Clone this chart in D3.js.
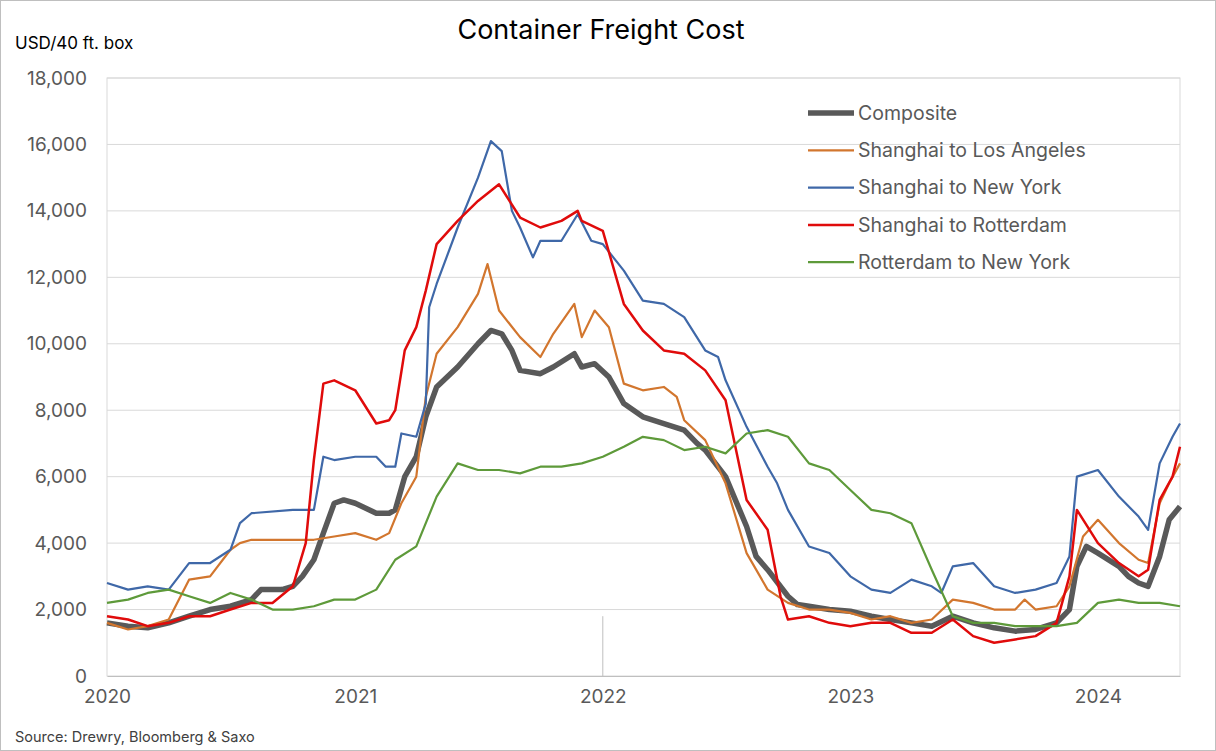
<!DOCTYPE html>
<html><head><meta charset="utf-8">
<script src="https://cdn.jsdelivr.net/npm/d3@7"></script>
<style>body{margin:0;background:#fff;font-family:Inter,"Noto Sans",sans-serif}</style>
</head><body><svg id="chart" width="1216" height="751"></svg>
<script>
// values, [date, USD per 40ft box]
const composite = [["2020-01-01",1600],["2020-02-01",1500],["2020-03-01",1450],["2020-04-01",1600],["2020-05-01",1800],["2020-06-01",2000],["2020-07-01",2100],["2020-08-01",2300],["2020-08-15",2600],["2020-09-15",2600],["2020-10-01",2700],["2020-10-15",3000],["2020-11-01",3500],["2020-11-15",4300],["2020-12-01",5200],["2020-12-15",5300],["2021-01-01",5200],["2021-02-01",4900],["2021-02-20",4900],["2021-03-01",5000],["2021-03-15",6000],["2021-04-01",6600],["2021-04-15",7800],["2021-05-01",8700],["2021-06-01",9300],["2021-07-01",10000],["2021-07-20",10400],["2021-08-05",10300],["2021-08-20",9800],["2021-09-01",9200],["2021-10-01",9100],["2021-10-20",9300],["2021-11-20",9700],["2021-12-01",9300],["2021-12-20",9400],["2022-01-10",9000],["2022-02-01",8200],["2022-03-01",7800],["2022-04-01",7600],["2022-05-01",7400],["2022-05-20",7000],["2022-06-01",6800],["2022-07-01",6000],["2022-08-01",4500],["2022-08-15",3600],["2022-09-01",3200],["2022-10-01",2400],["2022-10-15",2150],["2022-11-01",2100],["2022-12-01",2000],["2023-01-01",1950],["2023-02-01",1800],["2023-03-01",1700],["2023-04-01",1600],["2023-05-01",1500],["2023-06-01",1800],["2023-07-01",1600],["2023-08-01",1450],["2023-09-01",1350],["2023-10-01",1400],["2023-11-01",1600],["2023-11-20",2000],["2023-12-01",3300],["2023-12-15",3900],["2024-01-01",3700],["2024-02-01",3300],["2024-02-15",3000],["2024-03-01",2800],["2024-03-15",2700],["2024-04-01",3600],["2024-04-15",4700],["2024-05-01",5100]];
const shanghaiLA = [["2020-01-01",1600],["2020-02-01",1400],["2020-03-01",1500],["2020-04-01",1700],["2020-05-01",2900],["2020-06-01",3000],["2020-07-01",3800],["2020-07-15",4000],["2020-08-01",4100],["2020-10-01",4100],["2020-11-01",4100],["2020-12-01",4200],["2021-01-01",4300],["2021-02-01",4100],["2021-02-20",4300],["2021-03-10",5200],["2021-04-01",6000],["2021-04-15",8400],["2021-05-01",9700],["2021-06-01",10500],["2021-07-01",11500],["2021-07-15",12400],["2021-08-01",11000],["2021-09-01",10200],["2021-10-01",9600],["2021-10-20",10300],["2021-11-20",11200],["2021-12-01",10200],["2021-12-20",11000],["2022-01-10",10500],["2022-02-01",8800],["2022-03-01",8600],["2022-04-01",8700],["2022-04-20",8400],["2022-05-01",7700],["2022-06-01",7100],["2022-07-01",5800],["2022-08-01",3700],["2022-09-01",2600],["2022-10-01",2200],["2022-11-01",2000],["2022-12-01",2000],["2023-01-01",1900],["2023-02-01",1700],["2023-03-01",1800],["2023-04-01",1600],["2023-05-01",1700],["2023-06-01",2300],["2023-07-01",2200],["2023-08-01",2000],["2023-09-01",2000],["2023-09-15",2300],["2023-10-01",2000],["2023-11-01",2100],["2023-11-20",2700],["2023-12-10",4200],["2024-01-01",4700],["2024-02-01",4000],["2024-03-01",3500],["2024-03-15",3400],["2024-04-01",5200],["2024-04-15",5800],["2024-05-01",6400]];
const shanghaiNY = [["2020-01-01",2800],["2020-02-01",2600],["2020-03-01",2700],["2020-04-01",2600],["2020-05-01",3400],["2020-06-01",3400],["2020-07-01",3800],["2020-07-15",4600],["2020-08-01",4900],["2020-10-01",5000],["2020-11-01",5000],["2020-11-15",6600],["2020-12-01",6500],["2021-01-01",6600],["2021-02-01",6600],["2021-02-15",6300],["2021-03-01",6300],["2021-03-10",7300],["2021-04-01",7200],["2021-04-15",8200],["2021-04-20",11100],["2021-05-01",11800],["2021-06-01",13500],["2021-07-01",15000],["2021-07-20",16100],["2021-08-05",15800],["2021-08-20",14000],["2021-09-01",13500],["2021-09-20",12600],["2021-10-01",13100],["2021-11-01",13100],["2021-11-25",13900],["2021-12-15",13100],["2022-01-01",13000],["2022-02-01",12200],["2022-03-01",11300],["2022-04-01",11200],["2022-05-01",10800],["2022-06-01",9800],["2022-06-20",9600],["2022-07-01",8900],["2022-08-01",7500],["2022-09-01",6300],["2022-09-15",5800],["2022-10-01",5000],["2022-11-01",3900],["2022-12-01",3700],["2023-01-01",3000],["2023-02-01",2600],["2023-03-01",2500],["2023-04-01",2900],["2023-05-01",2700],["2023-05-15",2500],["2023-06-01",3300],["2023-07-01",3400],["2023-08-01",2700],["2023-09-01",2500],["2023-10-01",2600],["2023-11-01",2800],["2023-11-20",3600],["2023-12-01",6000],["2024-01-01",6200],["2024-02-01",5400],["2024-03-01",4800],["2024-03-15",4400],["2024-04-01",6400],["2024-04-20",7200],["2024-05-01",7600]];
const shanghaiRot = [["2020-01-01",1800],["2020-02-01",1700],["2020-03-01",1500],["2020-04-01",1600],["2020-05-01",1800],["2020-06-01",1800],["2020-07-01",2000],["2020-08-01",2200],["2020-09-01",2200],["2020-10-01",2700],["2020-10-20",4000],["2020-11-01",6500],["2020-11-15",8800],["2020-12-01",8900],["2021-01-01",8600],["2021-02-01",7600],["2021-02-20",7700],["2021-03-01",8000],["2021-03-15",9800],["2021-04-01",10500],["2021-04-15",11600],["2021-05-01",13000],["2021-06-01",13700],["2021-07-01",14300],["2021-08-01",14800],["2021-09-01",13800],["2021-10-01",13500],["2021-11-01",13700],["2021-11-25",14000],["2021-12-01",13700],["2022-01-01",13400],["2022-02-01",11200],["2022-03-01",10400],["2022-04-01",9800],["2022-05-01",9700],["2022-06-01",9200],["2022-07-01",8300],["2022-08-01",5300],["2022-09-01",4400],["2022-09-20",2400],["2022-10-01",1700],["2022-11-01",1800],["2022-12-01",1600],["2023-01-01",1500],["2023-02-01",1600],["2023-03-01",1600],["2023-04-01",1300],["2023-05-01",1300],["2023-06-01",1700],["2023-07-01",1200],["2023-08-01",1000],["2023-09-01",1100],["2023-10-01",1200],["2023-11-01",1600],["2023-11-20",3000],["2023-12-01",5000],["2024-01-01",4000],["2024-02-01",3400],["2024-03-01",3000],["2024-03-15",3200],["2024-04-01",5300],["2024-04-20",6000],["2024-05-01",6900]];
const rotNY = [["2020-01-01",2200],["2020-02-01",2300],["2020-03-01",2500],["2020-04-01",2600],["2020-05-01",2400],["2020-06-01",2200],["2020-07-01",2500],["2020-08-01",2300],["2020-09-01",2000],["2020-10-01",2000],["2020-11-01",2100],["2020-12-01",2300],["2021-01-01",2300],["2021-02-01",2600],["2021-03-01",3500],["2021-04-01",3900],["2021-05-01",5400],["2021-06-01",6400],["2021-07-01",6200],["2021-08-01",6200],["2021-09-01",6100],["2021-10-01",6300],["2021-11-01",6300],["2021-12-01",6400],["2022-01-01",6600],["2022-02-01",6900],["2022-03-01",7200],["2022-04-01",7100],["2022-05-01",6800],["2022-06-01",6900],["2022-07-01",6700],["2022-08-01",7300],["2022-09-01",7400],["2022-10-01",7200],["2022-11-01",6400],["2022-12-01",6200],["2023-01-01",5600],["2023-02-01",5000],["2023-03-01",4900],["2023-04-01",4600],["2023-05-01",3200],["2023-06-01",1800],["2023-07-01",1600],["2023-08-01",1600],["2023-09-01",1500],["2023-10-01",1500],["2023-11-01",1500],["2023-12-01",1600],["2024-01-01",2200],["2024-02-01",2300],["2024-03-01",2200],["2024-04-01",2200],["2024-05-01",2100]];
const yTicks = [0,2000,4000,6000,8000,10000,12000,14000,16000,18000];
const xYears = ["2020","2021","2022","2023","2024"];

const series = [
  {name:"Composite", data:composite, color:"#595959", width:5.5},
  {name:"Shanghai to Los Angeles", data:shanghaiLA, color:"#D2762E", width:2.2},
  {name:"Shanghai to New York", data:shanghaiNY, color:"#3F68A8", width:2.2},
  {name:"Shanghai to Rotterdam", data:shanghaiRot, color:"#E00B0B", width:2.5},
  {name:"Rotterdam to New York", data:rotNY, color:"#5E9A3A", width:2.2}
];

const svg = d3.select("#chart");
const parse = d3.timeParse("%Y-%m-%d");
const m = {left:107, right:1180, top:78, bottom:676};

const x = d3.scaleTime().domain([parse("2020-01-01"), parse("2024-05-01")]).range([m.left, m.right]);
const y = d3.scaleLinear().domain([0,18000]).range([m.bottom, m.top]);

svg.append("rect").attr("x",0.5).attr("y",0.5).attr("width",1215).attr("height",750).attr("fill","#fff").attr("stroke","#bfbfbf");

// gridlines
svg.append("g").selectAll("line").data(yTicks.slice(1)).enter().append("line")
  .attr("x1",m.left).attr("x2",m.right).attr("y1",d=>y(d)).attr("y2",d=>y(d))
  .attr("stroke","#d9d9d9").attr("stroke-width",1);
svg.append("rect").attr("x",m.left).attr("y",m.top).attr("width",m.right-m.left).attr("height",m.bottom-m.top)
  .attr("fill","none").attr("stroke","#d9d9d9");
svg.append("line").attr("x1",x(parse("2022-01-01"))).attr("x2",x(parse("2022-01-01")))
  .attr("y1",y(1800)).attr("y2",m.bottom).attr("stroke","#bfbfbf");

const yAxis = svg.append("g").attr("transform",`translate(${m.left},0)`)
  .call(d3.axisLeft(y).tickValues(yTicks).tickFormat(d3.format(",")).tickSize(0).tickPadding(20));
yAxis.select(".domain").remove();
yAxis.selectAll("text").attr("font-size",19).attr("fill","#595959").attr("font-family","Inter,sans-serif");

const xAxis = svg.append("g").attr("transform",`translate(0,${m.bottom})`)
  .call(d3.axisBottom(x).tickValues(xYears.map(d=>parse(d+"-01-01"))).tickFormat(d3.timeFormat("%Y")).tickSize(0).tickPadding(14));
xAxis.select(".domain").attr("stroke","#bfbfbf");
xAxis.selectAll("text").attr("font-size",19).attr("fill","#595959").attr("font-family","Inter,sans-serif");

const line = d3.line().x(d=>x(parse(d[0]))).y(d=>y(d[1]));
// draw composite last so it sits on top? reference shows it under coloured lines at places; draw first
series.forEach(s=>{
  svg.append("path").datum(s.data).attr("d",line).attr("fill","none")
    .attr("stroke",s.color).attr("stroke-width",s.width).attr("stroke-linejoin","round");
});

const lg = svg.append("g").attr("transform","translate(808,113)");
series.forEach((s,i)=>{
  const g = lg.append("g").attr("transform",`translate(0,${i*37.3})`);
  g.append("line").attr("x1",0).attr("x2",46).attr("stroke",s.color).attr("stroke-width",s.width);
  g.append("text").attr("x",50).attr("dy","0.35em").attr("font-size",19.5).attr("fill","#595959").text(s.name);
});

svg.append("text").attr("x",601).attr("y",39).attr("text-anchor","middle").attr("font-size",27).attr("fill","#000").text("Container Freight Cost");
svg.append("text").attr("x",15).attr("y",49).attr("font-size",17).attr("fill","#000").text("USD/40 ft. box");
svg.append("text").attr("x",15).attr("y",742).attr("font-size",14.5).attr("fill","#404040").text("Source: Drewry, Bloomberg & Saxo");
</script></body></html>
